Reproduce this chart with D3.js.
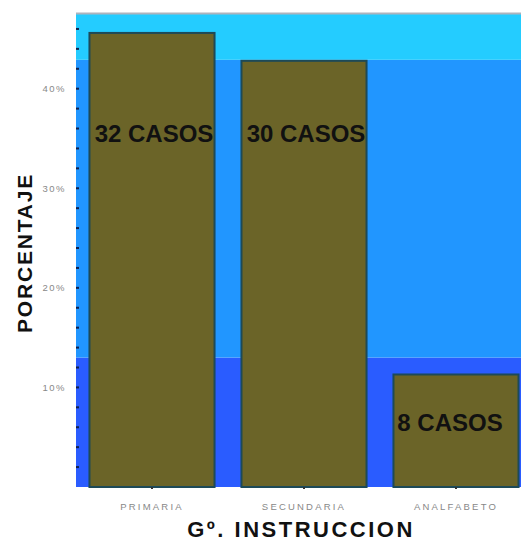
<!DOCTYPE html>
<html><head><meta charset="utf-8">
<script src="https://cdn.jsdelivr.net/npm/d3@7"></script>
<style>html,body{margin:0;padding:0;background:#fff;overflow:hidden}</style>
</head><body><svg id="c" width="521" height="548"></svg>
<script>
const categories = ["PRIMARIA", "SECUNDARIA", "ANALFABETO"];
const cases = [32, 30, 8];
const percents = [45.7, 42.9, 11.4];
const yTicks = [10, 20, 30, 40];
const bandLimits = [0, 13, 42.9, 47.5];
const bandColors = ["#2a5cff", "#2196ff", "#24ccff"];

const svg = d3.select("#c");
const mLeft = 76, mRight = 532, mTop = 14, mBottom = 487;
const x = d3.scaleBand().domain(categories).range([mLeft, mRight]).paddingInner(0.164).paddingOuter(0.082);
const y = d3.scaleLinear().domain([0, 47.5]).range([mBottom, mTop]);

// background bands
svg.selectAll("rect.band").data(bandColors).enter().append("rect")
  .attr("class","band")
  .attr("x", mLeft).attr("width", mRight - mLeft)
  .attr("y", (d,i) => y(bandLimits[i+1]))
  .attr("height", (d,i) => y(bandLimits[i]) - y(bandLimits[i+1]))
  .attr("fill", d => d);

// top frame line
svg.append("line").attr("x1", mLeft).attr("x2", mRight).attr("y1", mTop - 0.5).attr("y2", mTop - 0.5)
  .attr("stroke", "#aeb3bd").attr("stroke-width", 2);

// bars
svg.selectAll("rect.bar").data(categories).enter().append("rect")
  .attr("class","bar")
  .attr("x", d => x(d) + 1).attr("width", x.bandwidth() - 2)
  .attr("y", (d,i) => y(percents[i]) + 1)
  .attr("height", (d,i) => y(0) - y(percents[i]) - 1)
  .attr("fill", "#6b6428").attr("stroke", "#1d4a58").attr("stroke-width", 2);

// bar labels
svg.selectAll("text.lab").data(categories).enter().append("text")
  .attr("class","lab")
  .attr("x", (d,i) => x(d) + x.bandwidth()/2 + (percents[i] > 20 ? 2 : -6))
  .attr("y", (d,i) => percents[i] > 20 ? y(34.6) : y(5.6))
  .attr("text-anchor","middle")
  .attr("font-family","Liberation Sans, Arial, sans-serif")
  .attr("font-weight","bold").attr("font-size", 24)
  .attr("fill","#111")
  .text((d,i) => cases[i] + " CASOS");

// y axis
const yAxis = d3.axisLeft(y).tickValues(yTicks).tickFormat(d => d + "%").tickSize(0).tickPadding(10);
const ya = svg.append("g").attr("transform", `translate(${mLeft},0)`).call(yAxis);
ya.select(".domain").remove();
ya.selectAll("text").attr("font-family","Liberation Sans, Arial, sans-serif").attr("font-size",9.5)
  .attr("letter-spacing",1.5).attr("fill","#888");
// minor tick dots
const minor = d3.range(2, 47, 2);
svg.selectAll("rect.minor").data(minor).enter().append("rect").attr("class","minor")
  .attr("x", mLeft).attr("width", 3).attr("y", d => y(d) - 1).attr("height", 2).attr("fill", "#12204a");

// x axis
const xAxis = d3.axisBottom(x).tickSize(0).tickPadding(16);
const xa = svg.append("g").attr("transform", `translate(0,${mBottom})`).call(xAxis);
xa.select(".domain").remove();
xa.selectAll("text").attr("font-family","Liberation Sans, Arial, sans-serif").attr("font-size",9.5)
  .attr("letter-spacing",2.2).attr("fill","#888");
svg.selectAll("rect.xt").data(categories).enter().append("rect").attr("class","xt")
  .attr("x", d => x(d) + x.bandwidth()/2 - 1).attr("y", mBottom).attr("width",2).attr("height",2).attr("fill","#333");

// axis titles
svg.append("text").attr("x", 301).attr("y", 537).attr("text-anchor","middle")
  .attr("font-family","Liberation Sans, Arial, sans-serif").attr("font-weight","bold")
  .attr("font-size", 22).attr("letter-spacing", 2.5).attr("fill","#111").text("Gº. INSTRUCCION");
svg.append("text").attr("transform","translate(32,253) rotate(-90)").attr("text-anchor","middle")
  .attr("font-family","Liberation Sans, Arial, sans-serif").attr("font-weight","bold")
  .attr("font-size", 21).attr("letter-spacing", 1.8).attr("fill","#111").text("PORCENTAJE");
</script></body></html>
